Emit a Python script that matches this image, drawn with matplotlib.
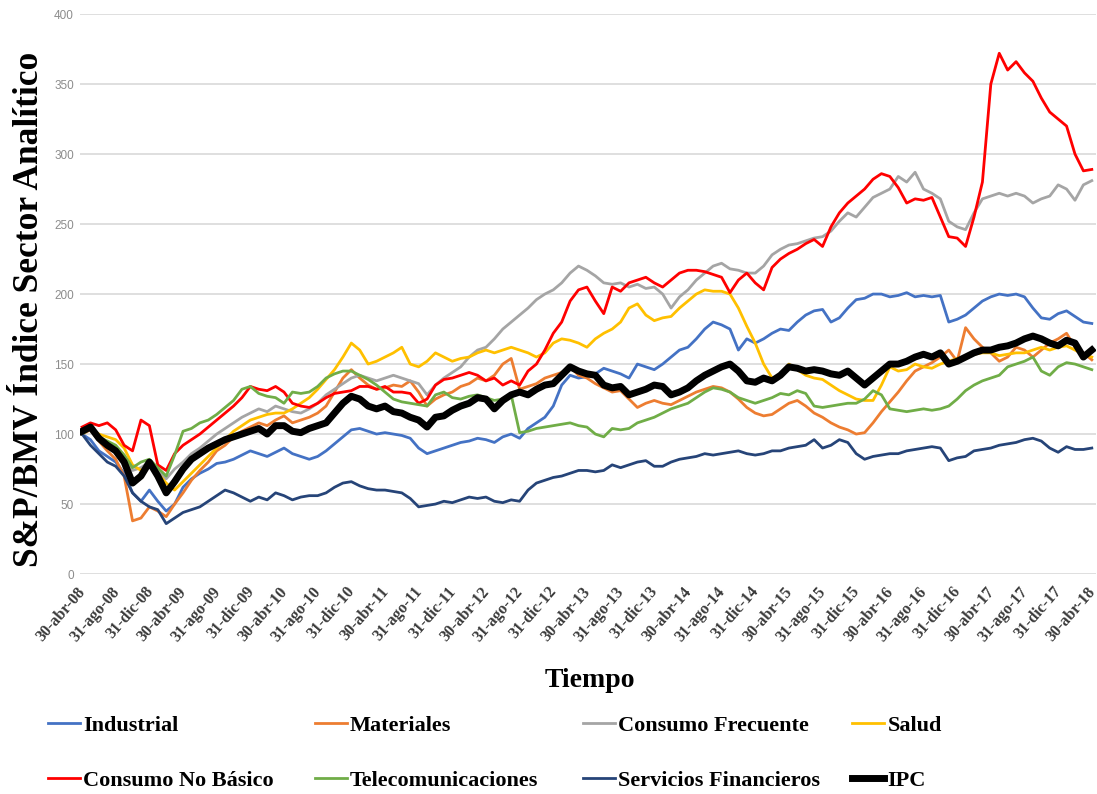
import matplotlib
matplotlib.use('Agg')
import matplotlib.pyplot as plt
import matplotlib.transforms as mtransforms

# meses desde 30-abr-08 (0) hasta 30-abr-18 (120)
meses = list(range(121))

industrial = [100, 96, 88, 84, 80, 72, 58, 52, 60, 52, 45, 50,
              62, 68, 72, 75, 79, 80, 82, 85, 88, 86, 84, 87,
              90, 86, 84, 82, 84, 88, 93, 98, 103, 104, 102, 100,
              101, 100, 99, 97, 90, 86, 88, 90, 92, 94, 95, 97,
              96, 94, 98, 100, 97, 104, 108, 112, 120, 135, 142, 140,
              141, 143, 147, 145, 143, 140, 150, 148, 146, 150, 155, 160,
              162, 168, 175, 180, 178, 175, 160, 168, 165, 168, 172, 175,
              174, 180, 185, 188, 189, 180, 183, 190, 196, 197, 200, 200,
              198, 199, 201, 198, 199, 198, 199, 180, 182, 185, 190, 195,
              198, 200, 199, 200, 198, 190, 183, 182, 186, 188, 184, 180,
              179]

materiales = [100, 103, 95, 88, 82, 70, 38, 40, 48, 45, 41, 50,
              58, 67, 74, 80, 88, 92, 98, 102, 105, 108, 106, 110,
              113, 108, 110, 112, 115, 120, 130, 140, 146, 140, 135, 132,
              133, 135, 134, 138, 130, 120, 125, 128, 130, 134, 136, 140,
              138, 142, 150, 154, 132, 134, 136, 140, 142, 144, 148, 142,
              140, 136, 133, 130, 131, 125, 119, 122, 124, 122, 121, 124,
              127, 130, 132, 134, 133, 130, 125, 119, 115, 113, 114, 118,
              122, 124, 120, 115, 112, 108, 105, 103, 100, 101, 108, 116,
              123, 130, 138, 145, 148, 151, 155, 160, 152, 176, 168, 162,
              158, 152, 155, 162, 160, 155, 160, 165, 168, 172, 162, 158,
              153]

consumo_frecuente = [100, 104, 98, 94, 90, 85, 74, 76, 80, 74, 68, 75,
                     80, 86, 90, 95, 100, 104, 108, 112, 115, 118, 116, 120,
                     118, 116, 115, 118, 122, 128, 132, 136, 140, 142, 140, 138,
                     140, 142, 140, 138, 136, 128, 135, 140, 144, 148, 155, 160,
                     162, 168, 175, 180, 185, 190, 196, 200, 203, 208, 215, 220,
                     217, 213, 208, 207, 208, 205, 207, 204, 205, 200, 190, 198,
                     203, 210, 215, 220, 222, 218, 217, 215, 215, 220, 228, 232,
                     235, 236, 238, 240, 241, 245, 252, 258, 255, 262, 269, 272,
                     275, 284, 280, 287, 275, 272, 268, 252, 248, 246, 258, 268,
                     270, 272, 270, 272, 270, 265, 268, 270, 278, 275, 267, 278,
                     281]

salud = [100, 104, 100, 98, 96, 90, 78, 74, 78, 72, 65, 60,
         66, 72, 78, 84, 90, 96, 102, 106, 110, 112, 114, 115,
         115, 118, 122, 126, 132, 139, 146, 155, 165, 160, 150, 152,
         155, 158, 162, 150, 148, 152, 158, 155, 152, 154, 155, 158,
         160, 158, 160, 162, 160, 158, 155, 158, 165, 168, 167, 165,
         162, 168, 172, 175, 180, 190, 193, 185, 181, 183, 184, 190,
         195, 200, 203, 202, 202, 200, 190, 177, 165, 150, 140, 142,
         150, 146, 142, 140, 139, 135, 131, 128, 125, 124, 124, 135,
         148, 145, 146, 150, 148, 147, 150, 152, 154, 155, 157, 158,
         158, 156, 157, 158, 158, 160, 162, 160, 162, 163, 160, 157,
         155]

consumo_no_basico = [105, 108, 106, 108, 103, 92, 88, 110, 106, 78, 74, 86,
                     92, 96, 100, 105, 110, 115, 120, 126, 134, 132, 131, 134,
                     130, 122, 120, 119, 122, 126, 129, 130, 131, 134, 134, 132,
                     134, 130, 130, 129, 122, 125, 135, 139, 140, 142, 144, 142,
                     138, 140, 135, 138, 135, 145, 150, 160, 172, 180, 195, 203,
                     205, 195, 186, 205, 202, 208, 210, 212, 208, 205, 210, 215,
                     217, 217, 216, 214, 212, 201, 210, 215, 208, 203, 219, 225,
                     229, 232, 236, 239, 234, 248, 258, 265, 270, 275, 282, 286,
                     284, 276, 265, 268, 267, 269, 255, 241, 240, 234, 255, 280,
                     350, 372, 360, 366, 358, 352, 340, 330, 325, 320, 300, 288,
                     289]

telecomunicaciones = [100, 104, 98, 95, 92, 85, 76, 80, 82, 76, 70, 85,
                      102, 104, 108, 110, 114, 119, 124, 132, 134, 129, 127, 126,
                      122, 130, 129, 130, 134, 140, 143, 145, 145, 142, 139, 135,
                      130, 125, 123, 122, 121, 120, 128, 130, 126, 125, 127, 128,
                      126, 124, 125, 128, 101, 102, 104, 105, 106, 107, 108, 106,
                      105, 100, 98, 104, 103, 104, 108, 110, 112, 115, 118, 120,
                      122, 126, 130, 133, 132, 130, 126, 124, 122, 124, 126, 129,
                      128, 131, 129, 120, 119, 120, 121, 122, 122, 125, 131, 128,
                      118, 117, 116, 117, 118, 117, 118, 120, 125, 131, 135, 138,
                      140, 142, 148, 150, 152, 155, 145, 142, 148, 151, 150, 148,
                      146]

servicios_financieros = [100, 92, 86, 80, 77, 70, 58, 52, 48, 46, 36, 40,
                         44, 46, 48, 52, 56, 60, 58, 55, 52, 55, 53, 58,
                         56, 53, 55, 56, 56, 58, 62, 65, 66, 63, 61, 60,
                         60, 59, 58, 54, 48, 49, 50, 52, 51, 53, 55, 54,
                         55, 52, 51, 53, 52, 60, 65, 67, 69, 70, 72, 74,
                         74, 73, 74, 78, 76, 78, 80, 81, 77, 77, 80, 82,
                         83, 84, 86, 85, 86, 87, 88, 86, 85, 86, 88, 88,
                         90, 91, 92, 96, 90, 92, 96, 94, 86, 82, 84, 85,
                         86, 86, 88, 89, 90, 91, 90, 81, 83, 84, 88, 89,
                         90, 92, 93, 94, 96, 97, 95, 90, 87, 91, 89, 89,
                         90]

ipc = [102, 105, 97, 92, 88, 80, 65, 70, 80, 70, 58, 66,
       75, 82, 86, 90, 93, 96, 98, 100, 102, 104, 100, 106,
       106, 102, 101, 104, 106, 108, 115, 122, 127, 125, 120, 118,
       120, 116, 115, 112, 110, 105, 112, 113, 117, 120, 122, 126,
       125, 118, 124, 128, 130, 128, 132, 135, 136, 142, 148, 145,
       143, 142, 135, 133, 134, 128, 130, 132, 135, 134, 128, 130,
       133, 138, 142, 145, 148, 150, 145, 138, 137, 140, 138, 142,
       148, 147, 145, 146, 145, 143, 142, 145, 140, 135, 140, 145,
       150, 150, 152, 155, 157, 155, 158, 150, 152, 155, 158, 160,
       160, 162, 163, 165, 168, 170, 168, 165, 163, 167, 165, 155,
       160]

series = [
    ('Industrial', industrial, '#4472C4', 2.0),
    ('Materiales', materiales, '#ED7D31', 2.0),
    ('Consumo Frecuente', consumo_frecuente, '#A5A5A5', 2.0),
    ('Salud', salud, '#FFC000', 2.0),
    ('Consumo No Básico', consumo_no_basico, '#FF0000', 2.0),
    ('Telecomunicaciones', telecomunicaciones, '#70AD47', 2.0),
    ('Servicios Financieros', servicios_financieros, '#264478', 2.0),
    ('IPC', ipc, '#000000', 5.0),
]

tick_meses = list(range(0, 121, 4))
tick_labels = ['30-abr-08', '31-ago-08', '31-dic-08', '30-abr-09', '31-ago-09', '31-dic-09',
               '30-abr-10', '31-ago-10', '31-dic-10', '30-abr-11', '31-ago-11', '31-dic-11',
               '30-abr-12', '31-ago-12', '31-dic-12', '30-abr-13', '31-ago-13', '31-dic-13',
               '30-abr-14', '31-ago-14', '31-dic-14', '30-abr-15', '31-ago-15', '31-dic-15',
               '30-abr-16', '31-ago-16', '31-dic-16', '30-abr-17', '31-ago-17', '31-dic-17',
               '30-abr-18']

serif = 'Liberation Serif'

fig = plt.figure(figsize=(10.97, 7.94), dpi=100)
ax = fig.add_axes([0.0725, 0.277, 0.9266, 0.7053])

lineas = []
for nombre, valores, color, lw in series:
    l, = ax.plot(meses, valores, color=color, lw=lw, label=nombre, solid_joinstyle='round')
    lineas.append(l)

ax.set_xlim(-0.3, 120.5)
ax.set_ylim(0, 400)
ax.set_yticks(range(0, 401, 50))
ax.grid(axis='y', color='#D9D9D9', lw=1.2)
ax.set_axisbelow(True)
for s in ax.spines.values():
    s.set_visible(False)
ax.tick_params(axis='both', length=0)
ax.tick_params(axis='y', labelsize=8.5, labelcolor='#8C8C8C', pad=4)
for t in ax.get_yticklabels():
    t.set_family('Liberation Sans')

ax.set_xticks(tick_meses)
ax.set_xticklabels(tick_labels, rotation=49, ha='right', rotation_mode='anchor',
                   family=serif, fontweight='bold', fontsize=11.5, color='#3A3A3A')
ax.tick_params(axis='x', pad=7)
desplazar = mtransforms.ScaledTranslation(-5 / 100, 0, fig.dpi_scale_trans)
for t in ax.get_xticklabels():
    t.set_transform(t.get_transform() + desplazar)

fig.text(0.027, 0.61, 'S&P/BMV Índice Sector Analítico', rotation=90, ha='center', va='center',
         family=serif, fontweight='bold', fontsize=25.5)
fig.text(0.538, 0.143, 'Tiempo', ha='center', va='center',
         family=serif, fontweight='bold', fontsize=20)

# leyenda en 4 columnas de igual ancho, llenadas por fila como en Excel
col_x = [0.0438, 0.287, 0.531, 0.777]
for i, x in enumerate(col_x):
    hs = [lineas[i], lineas[i + 4]]
    leg = fig.legend(handles=hs, loc='upper left', bbox_to_anchor=(x, 0.099), frameon=False,
                     prop={'family': serif, 'weight': 'bold', 'size': 16},
                     handlelength=1.44, handletextpad=0.14, labelspacing=1.55,
                     borderaxespad=0, borderpad=0)

fig.savefig('out.png', dpi=100)
plt.close(fig)
